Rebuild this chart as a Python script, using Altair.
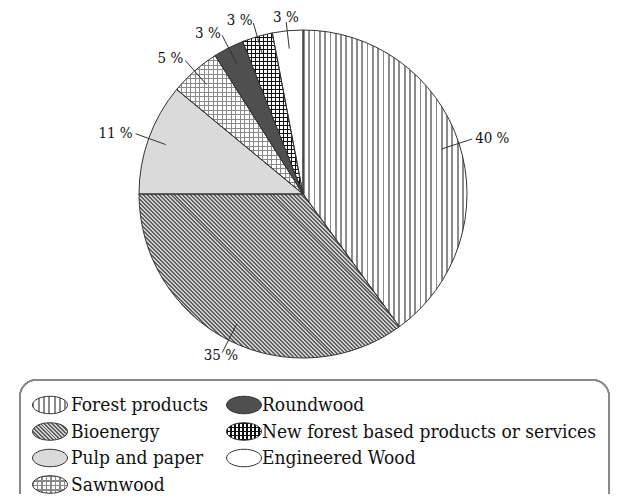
import math
import pandas as pd
import altair as alt

# ---------------- data ----------------
categories = ["Forest products", "Bioenergy", "Pulp and paper", "Sawnwood",
              "Roundwood", "New forest based products or services", "Engineered Wood"]
values = [40, 35, 11, 5, 3, 3, 3]
label_text = ["40 %", "35 %", "11 %", "5 %", "3 %", "3 %", "3 %"]

df = pd.DataFrame({"category": categories, "value": values,
                   "label": label_text, "idx": list(range(len(categories)))})
df["end"] = df["value"].cumsum()
df["start"] = df["end"] - df["value"]

# ---------------- layout / style ----------------
W, H = 602, 486
CX, CY, R = 295, 186, 164
FONT = "DejaVu Serif Condensed"
TAU = 2 * math.pi

xs = alt.Scale(domain=[0, W], range=[0, W], nice=False, zero=False)
ys = alt.Scale(domain=[0, H], range=[0, H], nice=False, zero=False)
ts = alt.Scale(domain=[0, 100], range=[0, TAU])

styles = {
    "Forest products": [("v", "#8c8c8c", "#ffffff", 5.3, 0.35)],
    "Bioenergy": [("d", "#606060", "#cfcfcf", 2.8, 0.5)],
    "Pulp and paper": ["#dadada"],
    "Sawnwood": [("h", "#8a8a8a", "#ffffff", 4.5, 0.3),
                 ("v", "#8a8a8a", "rgba(255,255,255,0)", 4.5, 0.3)],
    "Roundwood": ["#4f4f4f"],
    "New forest based products or services": [("h", "#111111", "#ffffff", 4.0, 0.33),
                                              ("v", "#111111", "rgba(255,255,255,0)", 4.0, 0.33)],
    "Engineered Wood": ["#ffffff"],
}


def arc_bbox(s, e, r):
    pts = [(0.0, 0.0)]
    for p in (s, e):
        a = p / 100 * TAU
        pts.append((r * math.sin(a), -r * math.cos(a)))
    for q in (0, 25, 50, 75, 100):
        if s < q < e:
            a = q / 100 * TAU
            pts.append((r * math.sin(a), -r * math.cos(a)))
    xs_ = [p[0] for p in pts]
    ys_ = [p[1] for p in pts]
    return max(xs_) - min(xs_), max(ys_) - min(ys_)


def grad(spec, w, h):
    if isinstance(spec, str):
        return spec
    kind, c_line, c_bg, period, frac = spec
    if kind == "v":
        p1, p2, L = (0, 0), (1, 0), w
    elif kind == "h":
        p1, p2, L = (0, 0), (0, 1), h
    else:
        s = (w + h) / (w * w + h * h)
        p1, p2, L = (0, 1), (s * w, 1 - s * h), (w + h) / math.sqrt(2)
    n = L / period
    stops = []
    k = 0
    while k < n:
        a = k / n
        b = min((k + frac) / n, 1)
        c = min((k + 1) / n, 1)
        stops += [{"offset": a, "color": c_line}, {"offset": b, "color": c_line},
                  {"offset": b, "color": c_bg}, {"offset": c, "color": c_bg}]
        k += 1
    return {"gradient": "linear", "x1": p1[0], "y1": p1[1],
            "x2": p2[0], "y2": p2[1], "stops": stops}


base = alt.Chart(df)
layers = []

# ---------------- pie slices ----------------
for cat, s, e in zip(df["category"], df["start"], df["end"]):
    w, h = arc_bbox(s, e, R)
    for spec in styles[cat]:
        layers.append(
            base.transform_filter(alt.datum.category == cat)
            .mark_arc(fill=grad(spec, w, h), outerRadius=R, strokeWidth=0)
            .encode(theta=alt.Theta("start:Q", scale=ts, stack=None),
                    theta2="end:Q", x=alt.value(CX), y=alt.value(CY))
        )
layers.append(
    base.mark_arc(fillOpacity=0, stroke="#333333", strokeWidth=1, outerRadius=R)
    .encode(theta=alt.Theta("start:Q", scale=ts, stack=None),
            theta2="end:Q", x=alt.value(CX), y=alt.value(CY))
)

# ---------------- leader lines and labels ----------------
geo = base.transform_calculate(
    a=f"(datum.start + datum.end) / 200 * {TAU}"
).transform_calculate(
    lx1=f"{CX} + 146 * sin(datum.a)", ly1=f"{CY} - 146 * cos(datum.a)",
    lx2=f"{CX} + 178 * sin(datum.a)", ly2=f"max({CY} - 178 * cos(datum.a), 14)",
    tx=f"{CX} + 181 * sin(datum.a)", ty=f"max({CY} - 181 * cos(datum.a), 9)",
    side="sin(datum.a) > 0.2 ? 'left' : ((sin(datum.a) < -0.2 && cos(datum.a) > 0) ? 'right' : 'center')",
)
layers.append(
    geo.mark_rule(color="#333333", strokeWidth=1).encode(
        x=alt.X("lx1:Q", scale=xs, axis=None), y=alt.Y("ly1:Q", scale=ys, axis=None),
        x2="lx2:Q", y2="ly2:Q")
)
for side in ("left", "right", "center"):
    layers.append(
        geo.transform_filter(alt.datum.side == side)
        .mark_text(font=FONT, fontSize=15, color="#111111", align=side, baseline="middle")
        .encode(x=alt.X("tx:Q", scale=xs, axis=None), y=alt.Y("ty:Q", scale=ys, axis=None),
                text="label:N")
    )

# ---------------- legend ----------------
ELLIPSE = "M -1 0 A 1 0.5 0 1 1 1 0 A 1 0.5 0 1 1 -1 0 Z"
leg = base.transform_calculate(
    row="datum.idx % 4", col="floor(datum.idx / 4)"
).transform_calculate(
    sx="datum.col == 0 ? 42 : 236",
    tx="datum.col == 0 ? 63 : 254",
    ly="397 + datum.row * 26.5",
)
layers.append(
    alt.Chart(df).mark_rect(fillOpacity=0, stroke="#8a8a8a", strokeWidth=1.3, cornerRadius=16)
    .encode(x=alt.value(12), x2=alt.value(601), y=alt.value(372), y2=alt.value(530))
)
for cat in categories:
    for spec in styles[cat]:
        layers.append(
            leg.transform_filter(alt.datum.category == cat)
            .mark_point(shape=ELLIPSE, size=35 * 35, filled=True, opacity=1,
                        fill=grad(spec, 35, 17.5), strokeWidth=0)
            .encode(x=alt.X("sx:Q", scale=xs, axis=None), y=alt.Y("ly:Q", scale=ys, axis=None))
        )
layers.append(
    leg.mark_point(shape=ELLIPSE, size=35 * 35, filled=False, opacity=1,
                   stroke="#333333", strokeWidth=1)
    .encode(x=alt.X("sx:Q", scale=xs, axis=None), y=alt.Y("ly:Q", scale=ys, axis=None))
)
layers.append(
    leg.mark_text(font=FONT, fontSize=19, color="#111111", align="left", baseline="middle")
    .encode(x=alt.X("tx:Q", scale=xs, axis=None), y=alt.Y("ly:Q", scale=ys, axis=None),
            text="category:N")
)

chart = alt.layer(*layers).properties(
    width=W, height=H, padding=0,
    autosize=alt.AutoSizeParams(type="none"),
).configure(font=FONT).configure_view(stroke=None)

chart.save("out.html", embed_options={"renderer": "svg", "actions": False})
